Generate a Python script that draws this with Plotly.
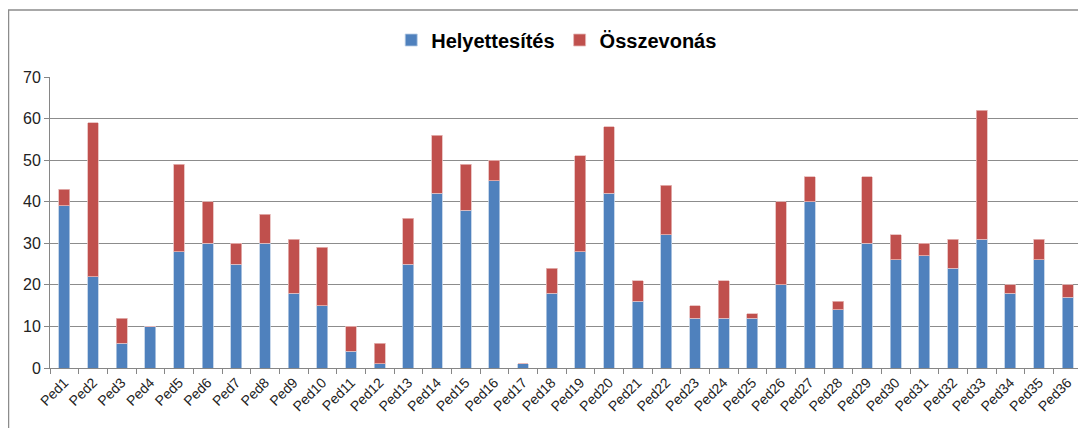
import plotly.graph_objects as go

categories = [f"Ped{i}" for i in range(1, 37)]
helyettesites = [39, 22, 6, 10, 28, 30, 25, 30, 18, 15, 4, 1, 25, 42, 38, 45, 1, 18,
                 28, 42, 16, 32, 12, 12, 12, 20, 40, 14, 30, 26, 27, 24, 31, 18, 26, 17]
totals = [43, 59, 12, 10, 49, 40, 30, 37, 31, 29, 10, 6, 36, 56, 49, 50, 1, 24,
          51, 58, 21, 44, 15, 21, 13, 40, 46, 16, 46, 32, 30, 31, 62, 20, 31, 20]
osszevonas = [t - h for t, h in zip(totals, helyettesites)]

fig = go.Figure()
fig.add_bar(x=categories, y=helyettesites, name="<b>Helyettesítés</b>",
            marker=dict(color="#4F81BD", line=dict(color="#B9CDE5", width=0.8)))
fig.add_bar(x=categories, y=osszevonas, name="<b>Összevonás</b>",
            marker=dict(color="#C0504D", line=dict(color="#E6B9B8", width=0.8)))

W, H = 1078, 420
ml, mr, mt, mb = 42, 4, 69, 60
pw, ph = W - ml - mr, H - mt - mb

fig.update_layout(
    barmode="stack",
    bargap=0.62,
    width=W, height=H,
    margin=dict(l=ml, r=mr, t=mt, b=mb, autoexpand=False),
    paper_bgcolor="white", plot_bgcolor="white",
    font=dict(family="Liberation Sans, Arial, sans-serif", color="#222"),
    legend=dict(orientation="h", x=0.491, xanchor="center", y=1.0 + (mt - 32) / ph,
                yanchor="middle", font=dict(size=20, color="black", family="Liberation Sans, Arial"),
                traceorder="normal"),
    showlegend=True,
    xaxis=dict(showgrid=False, ticks="outside", tickson="boundaries", ticklen=5,
               tickcolor="#868686", linecolor="#868686", showline=True, automargin=False,
               tickangle=-45, tickfont=dict(size=14, color="#222")),
    yaxis=dict(range=[0, 70], dtick=10, showgrid=True, gridcolor="#8C8C8C", gridwidth=1,
               showline=True, linecolor="#868686", ticks="outside", ticklen=5, automargin=False,
               tickcolor="#868686", tickfont=dict(size=16, color="#222"),
               zeroline=False),
    shapes=[dict(type="rect", xref="paper", yref="paper",
                 x0=(0.5 - ml) / pw, x1=(W + 10 - ml) / pw,
                 y0=-(mb + 10) / ph, y1=(H - 2 - mb) / ph,
                 line=dict(color="#8C8C8C", width=1.5), layer="below")],
)

fig.write_html("out.html")
